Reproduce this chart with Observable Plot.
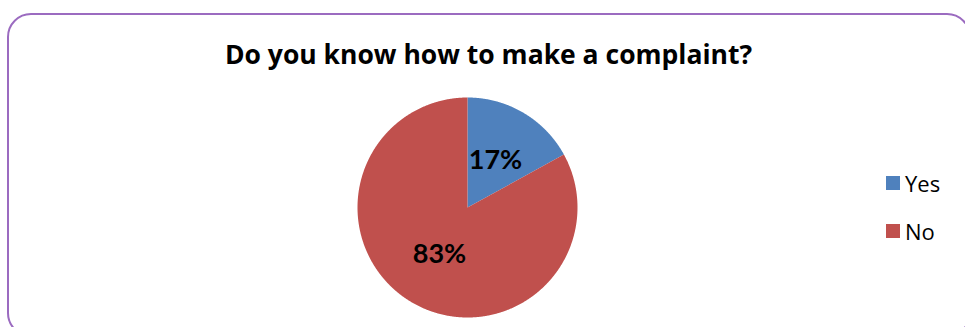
<!DOCTYPE html>
<html><head><meta charset="utf-8">
<script src="https://cdn.jsdelivr.net/npm/d3@7"></script>
<script src="https://cdn.jsdelivr.net/npm/@observablehq/plot@0.6"></script>
<style>
body{margin:0;background:#fff;}
#wrap{position:relative;width:965px;height:327px;overflow:hidden;font-family:"Open Sans",Lato,sans-serif;}
#frame{position:absolute;left:7px;top:13px;width:964px;height:324px;border:2px solid #9b6bc0;border-radius:24px;box-sizing:border-box;}
#title{position:absolute;left:0;width:977px;top:41px;text-align:center;font-weight:bold;font-size:26.5px;line-height:26.5px;color:#000;white-space:nowrap;}
#chart{position:absolute;left:0;top:0;}
#legend{position:absolute;left:886px;top:159px;font-size:22px;color:#000;}
.item{display:flex;align-items:center;height:48px;}
.sw{width:14px;height:14px;margin-right:5px;}
</style></head>
<body>
<div id="wrap">
  <div id="frame"></div>
  <div id="chart"></div>
  <div id="title">Do you know how to make a complaint?</div>
  <div id="legend"></div>
</div>
<script>
const categories = ["Yes", "No"];
const values = [17, 83];
const labels = ["17%", "83%"];
const colors = ["#4F81BD", "#C0504D"];

const arcs = d3.pie().sort(null).startAngle(0).endAngle(2 * Math.PI)(values);
const pts = [];
const lbls = [];
arcs.forEach((a, i) => {
  const cat = categories[i];
  pts.push({x: 0, y: 0, cat});
  const n = Math.max(2, Math.ceil((a.endAngle - a.startAngle) / 0.005));
  for (let k = 0; k <= n; k++) {
    const t = a.startAngle + (a.endAngle - a.startAngle) * k / n;
    pts.push({x: Math.sin(t), y: Math.cos(t), cat});
  }
  pts.push({x: 0, y: 0, cat});
  const m = (a.startAngle + a.endAngle) / 2;
  lbls.push({x: 0.5 * Math.sin(m), y: 0.5 * Math.cos(m), text: labels[i]});
});

const chart = Plot.plot({
  width: 965, height: 327, margin: 0,
  style: {background: "transparent", fontFamily: "Lato, 'Open Sans', sans-serif"},
  x: {domain: [-1, 1], range: [357, 577], axis: null},
  y: {domain: [-1, 1], range: [317, 97], axis: null},
  color: {domain: categories, range: colors},
  marks: [
    Plot.line(pts, {x: "x", y: "y", z: "cat", fill: "cat", stroke: "none"}),
    Plot.text(lbls, {x: "x", y: "y", text: "text", fontSize: 27, fontWeight: "bold", fill: "#000"})
  ]
});
document.getElementById("chart").appendChild(chart);

const leg = document.getElementById("legend");
categories.forEach((c, i) => {
  const d = document.createElement("div");
  d.className = "item";
  d.innerHTML = `<div class="sw" style="background:${colors[i]}"></div><span>${c}</span>`;
  leg.appendChild(d);
});
</script>
</body></html>
